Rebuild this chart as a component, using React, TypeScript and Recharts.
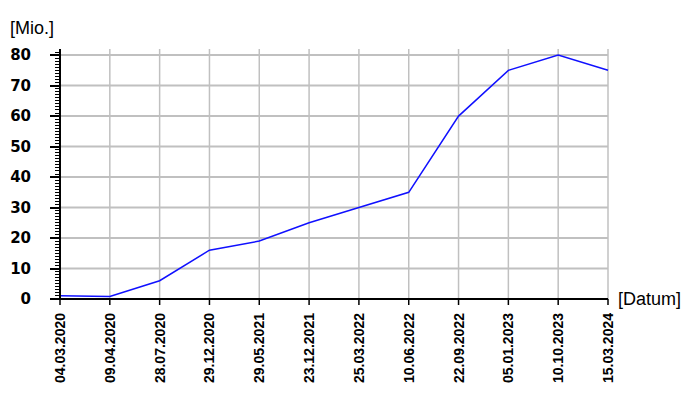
import { LineChart, Line, XAxis, YAxis, CartesianGrid } from 'recharts';

const dates = [
  '04.03.2020', '09.04.2020', '28.07.2020', '29.12.2020', '29.05.2021', '23.12.2021',
  '25.03.2022', '10.06.2022', '22.09.2022', '05.01.2023', '10.10.2023', '15.03.2024',
];
const amounts = [1.1, 0.8, 6, 16, 19, 25, 30, 35, 60, 75, 80, 75];

const yMajorTicks = [0, 10, 20, 30, 40, 50, 60, 70, 80];
// minor ticks every 1 unit, up to the top of the axis
const yMinorTicks = Array.from({ length: 82 }, (_, i) => i);

const data = dates.map((date, i) => ({ date, value: amounts[i] }));

const arial = '"Liberation Sans", Arial, sans-serif';

const YTick = ({ x, y, payload }: any) => {
  const major = payload.value % 10 === 0;
  return (
    <g>
      <line
        x1={major ? x - 10 : x - 5}
        x2={x}
        y1={y}
        y2={y}
        stroke="#000"
        strokeWidth={major ? 2 : 1}
        shapeRendering="crispEdges"
      />
      {major && (
        <text
          x={x - 29}
          y={y}
          textAnchor="end"
          dominantBaseline="central"
          fontFamily='"DejaVu Sans", sans-serif'
          fontWeight="bold"
          fontSize={15}
          fill="#000"
        >
          {payload.value}
        </text>
      )}
    </g>
  );
};

const XTick = ({ x, y, payload }: any) => (
  <text
    x={x}
    y={y + 6}
    transform={`rotate(-90, ${x}, ${y + 6})`}
    textAnchor="end"
    dominantBaseline="central"
    fontFamily={arial}
    fontWeight="bold"
    fontSize={14}
    fill="#000"
  >
    {payload.value}
  </text>
);

export default function App() {
  return (
    <div style={{ position: 'absolute', left: 0, top: 0, width: 700, height: 400, background: '#fff' }}>
      <div style={{ position: 'absolute', left: 10, top: 19, fontFamily: arial, fontSize: 18, lineHeight: '18px' }}>
        [Mio.]
      </div>
      <div style={{ position: 'absolute', left: 618, top: 290, fontFamily: arial, fontSize: 18, lineHeight: '18px' }}>
        [Datum]
      </div>
      <LineChart width={700} height={400} data={data} margin={{ top: 49, right: 92, bottom: 0, left: 0 }}>
        <CartesianGrid horizontal={false} stroke="#c0c0c0" strokeWidth={1.5} />
        <CartesianGrid vertical={false} horizontalValues={yMajorTicks} stroke="#c0c0c0" strokeWidth={2} />
        <XAxis
          dataKey="date"
          height={101}
          interval={0}
          tick={<XTick />}
          tickSize={6}
          tickLine={{ stroke: '#000', strokeWidth: 1.5 }}
          axisLine={{ stroke: '#000', strokeWidth: 2 }}
        />
        <YAxis
          width={60}
          domain={[0, 82]}
          ticks={yMinorTicks}
          interval={0}
          tick={<YTick />}
          tickSize={0}
          tickMargin={0}
          tickLine={false}
          axisLine={{ stroke: '#000', strokeWidth: 2 }}
        />
        <Line
          type="linear"
          dataKey="value"
          stroke="#1010ff"
          strokeWidth={1.5}
          dot={false}
          isAnimationActive={false}
        />
      </LineChart>
    </div>
  );
}
